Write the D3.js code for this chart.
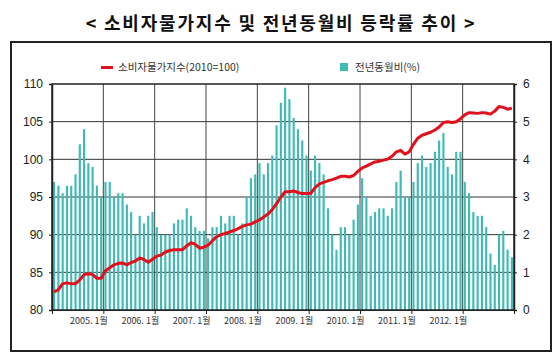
<!DOCTYPE html>
<html><head><meta charset="utf-8">
<script src="https://cdn.jsdelivr.net/npm/d3@7/dist/d3.min.js"></script>
<style>body{margin:0;background:#fff}svg{display:block}</style>
</head><body>
<svg id="c" width="560" height="358"></svg>
<script>
const titleText = "< 소비자물가지수 및 전년동월비 등락률 추이 >";
const seriesNames = ["소비자물가지수(2010=100)", "전년동월비(%)"];
const years = [2004, 2005, 2006, 2007, 2008, 2009, 2010, 2011, 2012];
const months = years.flatMap(y => d3.range(1, 13).map(m => y + "." + m));

// 소비자물가지수 (2010=100), monthly 2004.1 - 2012.12
const cpiIndex = [
  82.4, 82.7, 83.5, 83.6, 83.5, 83.5, 84.0, 84.7, 84.8, 84.7, 84.2, 84.2,
  85.2, 85.6, 86.0, 86.2, 86.25, 86.0, 86.3, 86.5, 86.9, 86.7, 86.35, 86.75,
  87.15, 87.3, 87.7, 87.9, 88.0, 88.0, 88.0, 88.5, 88.95, 88.7, 88.2, 88.35,
  88.6, 89.2, 89.75, 90.0, 90.15, 90.35, 90.55, 90.8, 91.1, 91.3, 91.4, 91.7,
  91.95, 92.35, 92.75, 93.35, 94.1, 95.0, 95.7, 95.7, 95.8, 95.6, 95.45, 95.45,
  95.5, 96.25, 96.75, 96.95, 97.15, 97.3, 97.5, 97.75, 97.75, 97.65, 97.85, 98.4,
  98.85, 99.1, 99.4, 99.65, 99.75, 99.9, 100.05, 100.4, 101.0, 101.2, 100.7, 101.0,
  102.0, 102.8, 103.2, 103.4, 103.6, 103.9, 104.3, 104.9, 105.0, 104.9, 105.0, 105.4,
  105.9, 106.2, 106.15, 106.1, 106.2, 106.15, 106.0, 106.4, 107.0, 106.9, 106.65, 106.8
];
// 전년동월비 (%)
const yoyRate = [
  3.4, 3.3, 3.1, 3.3, 3.3, 3.6, 4.4, 4.8, 3.9, 3.8, 3.3, 3.0,
  3.4, 3.4, 3.0, 3.1, 3.1, 2.8, 2.6, 2.0, 2.5, 2.3, 2.5, 2.6,
  2.2, 2.0, 2.0, 2.0, 2.3, 2.4, 2.4, 2.7, 2.5, 2.2, 2.1, 2.1,
  1.9, 2.2, 2.2, 2.5, 2.3, 2.5, 2.5, 2.0, 2.3, 3.0, 3.5, 3.6,
  3.9, 3.6, 3.9, 4.1, 4.9, 5.5, 5.9, 5.6, 5.1, 4.8, 4.5, 4.1,
  3.7, 4.1, 3.9, 3.6, 2.7, 2.0, 1.6, 2.2, 2.2, 2.0, 2.4, 2.8,
  3.5, 3.0, 2.5, 2.6, 2.7, 2.7, 2.5, 2.7, 3.4, 3.7, 3.0, 3.0,
  3.4, 3.9, 4.1, 3.8, 3.9, 4.2, 4.5, 4.7, 3.8, 3.6, 4.2, 4.2,
  3.4, 3.1, 2.6, 2.5, 2.5, 2.2, 1.5, 1.2, 2.0, 2.1, 1.6, 1.4
];
const leftTicks = [80, 85, 90, 95, 100, 105, 110];
const rightTicks = [0, 1, 2, 3, 4, 5, 6];
const xTickLabels = ["", "2005. 1월", "2006. 1월", "2007. 1월", "2008. 1월", "2009. 1월", "2010. 1월", "2011. 1월", "2012. 1월", ""];

const L = 52, R = 514, T = 84, B = 310;
const svg = d3.select("#c");
const font = "'Liberation Sans', Arial, sans-serif";
const kfont = "'Noto Sans CJK KR', 'Liberation Sans', sans-serif";

// frame
svg.append("rect").attr("x", 11).attr("y", 42).attr("width", 540).attr("height", 309)
  .attr("fill", "none").attr("stroke", "#222").attr("stroke-width", 2);

// title
svg.append("text").attr("x", 281).attr("y", 30).attr("text-anchor", "middle")
  .attr("font-family", kfont).attr("font-weight", "bold").attr("font-size", 18)
  .attr("letter-spacing", 1.8).attr("fill", "#111").text(titleText);

const x = d3.scaleBand().domain(months).range([L, R]).paddingInner(0.5).paddingOuter(0.25);
const xIdx = d3.scaleLinear().domain([0, months.length]).range([L, R]);
const yL = d3.scaleLinear().domain([80, 110]).range([B, T]);
const yR = d3.scaleLinear().domain([0, 6]).range([B, T]);

// gridlines
const g = svg.append("g");
g.selectAll("line.h").data(leftTicks.slice(1, -1)).join("line")
  .attr("x1", L).attr("x2", R).attr("y1", d => yL(d)).attr("y2", d => yL(d))
  .attr("stroke", "#333").attr("stroke-width", 1);
g.selectAll("line.v").data(d3.range(12, months.length, 12)).join("line")
  .attr("x1", d => xIdx(d)).attr("x2", d => xIdx(d)).attr("y1", T).attr("y2", B)
  .attr("stroke", "#444").attr("stroke-width", 1);

// bars
svg.append("g").selectAll("rect").data(yoyRate).join("rect")
  .attr("x", (d, i) => x(months[i])).attr("width", x.bandwidth())
  .attr("y", d => yR(d)).attr("height", d => yR(0) - yR(d))
  .attr("fill", "#3fbab4");

// plot border
svg.append("rect").attr("x", L).attr("y", T).attr("width", R - L).attr("height", B - T)
  .attr("fill", "none").attr("stroke", "#222").attr("stroke-width", 1.5);

// line
const line = d3.line().x((d, i) => x(months[i]) + x.bandwidth() / 2).y(d => yL(d)).curve(d3.curveLinear);
svg.append("path").datum(cpiIndex).attr("d", line).attr("fill", "none")
  .attr("stroke", "#e0101c").attr("stroke-width", 3).attr("stroke-linejoin", "round");

// axes
const axL = svg.append("g").attr("transform", `translate(${L},0)`)
  .call(d3.axisLeft(yL).tickValues(leftTicks).tickFormat(d3.format("d")).tickSize(3).tickPadding(6));
const axR = svg.append("g").attr("transform", `translate(${R},0)`)
  .call(d3.axisRight(yR).tickValues(rightTicks).tickFormat(d3.format("d")).tickSize(3).tickPadding(6));
const axB = svg.append("g").attr("transform", `translate(0,${B})`)
  .call(d3.axisBottom(xIdx).tickValues(d3.range(0, months.length + 1, 12))
    .tickFormat((d, i) => xTickLabels[i] || "").tickSize(4).tickPadding(4));
[axL, axR].forEach(a => {
  a.select(".domain").attr("stroke", "#222").attr("stroke-width", 1.5);
  a.selectAll(".tick line").attr("stroke", "#222");
  a.selectAll("text").attr("font-family", font).attr("font-size", 12).attr("fill", "#222");
});
axB.select(".domain").attr("stroke", "#222");
axB.selectAll(".tick line").attr("stroke", "#222");
axB.selectAll("text").attr("font-family", kfont).attr("font-size", 9).attr("fill", "#333")
  .attr("text-anchor", "end").attr("dx", 4);

// legend
const lg = svg.append("g").attr("font-family", kfont).attr("font-size", 10.5).attr("fill", "#333");
lg.append("rect").attr("x", 101).attr("y", 66).attr("width", 12).attr("height", 3).attr("fill", "#e0101c");
lg.append("text").attr("x", 118).attr("y", 71).text(seriesNames[0]);
lg.append("rect").attr("x", 340).attr("y", 63).attr("width", 8).attr("height", 8).attr("fill", "#3fbab4");
lg.append("text").attr("x", 355).attr("y", 71).text(seriesNames[1]);
</script>
</body></html>
